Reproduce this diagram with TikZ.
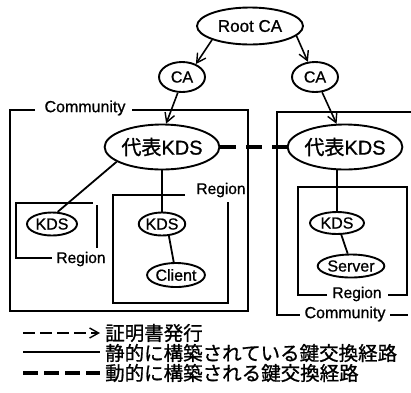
\documentclass[tikz,border=0pt]{standalone}
\usepackage{fontspec}
\setmainfont{Liberation Sans}[FakeBold=0.8]
\newfontfamily\jp{Noto Sans CJK JP}[FakeBold=1]
\usetikzlibrary{shapes.geometric,arrows.meta}
\begin{document}
\begin{tikzpicture}[x=1pt,y=-1pt,
  ell/.style={ellipse,draw,line width=1.9pt,inner sep=0pt,font=\fontsize{16}{16}\selectfont},
  conn/.style={line width=1.8pt},
  cert/.style={line width=1.6pt,-{Straight Barb[length=9pt,width=10pt,line width=1.4pt]}},
  dyn/.style={line width=3.2pt,dash pattern=on 16pt off 10pt},
  boxline/.style={line width=2.8pt},
  lbl/.style={inner sep=2pt,font=\fontsize{16}{16}\selectfont},
  leg/.style={anchor=west,inner sep=0pt,font=\jp\fontsize{19.5}{19.5}\selectfont}]
\useasboundingbox (0,0) rectangle (411,392);

% nodes
\node[ell,minimum width=106pt,minimum height=37pt,font=\fontsize{17}{17}\selectfont] (root) at (250,26) {Root CA};
\node[ell,minimum width=46pt,minimum height=30pt] (caL) at (182,77) {CA};
\node[ell,minimum width=46pt,minimum height=30pt] (caR) at (315,77) {CA};
\node[ell,minimum width=106pt,minimum height=45pt,font=\fontsize{20}{20}\selectfont] (repL) at (162,147) {{\jp 代表}KDS};
\node[ell,minimum width=106pt,minimum height=45pt,font=\fontsize{20}{20}\selectfont] (repR) at (345,147) {{\jp 代表}KDS};
\node[ell,minimum width=50pt,minimum height=23pt] (kdsA) at (52,224) {KDS};
\node[ell,minimum width=46pt,minimum height=23pt] (kdsB) at (162,224) {KDS};
\node[ell,minimum width=53pt,minimum height=24pt] (client) at (176,275) {Client};
\node[ell,minimum width=54pt,minimum height=22pt] (kdsC) at (337,223) {KDS};
\node[ell,minimum width=53pt,minimum height=23pt] (server) at (351,266) {Server};

% certificate arrows
\draw[cert] (root.200) -- (caL.43);
\draw[cert] (root.348) -- (caR.115);
\draw[cert] (caL.255) -- (repL.80);
\draw[cert] (caR.295) -- (repR.110);

% static links
\draw[conn] (repL.198) -- (kdsA.65);
\draw[conn] (repL.south) -- (kdsB.north);
\draw[conn] (kdsB.300) -- (client.100);
\draw[conn] (kdsC.north |- repR.south) -- (kdsC.north);
\draw[conn] (kdsC.290) -- (server.105);

% dynamic link
\draw[dyn] (repL.east) -- (repR.west);

% left community
\node[lbl] (commL) at (85,108) {Community};
\draw[boxline] (35,110) -- (10,110) -- (10,311) -- (248,311) -- (248,110) -- (132,110);
% right community
\node[lbl] (commR) at (345,314) {Community};
\draw[boxline] (411,112) -- (277,112) -- (277,315) -- (300,315);
\draw[boxline] (390,315) -- (408,315);
% left small region
\node[lbl,font=\fontsize{15.5}{15.5}\selectfont] (regA) at (81,259) {Region};
\draw[boxline] (93,203) -- (16,203) -- (16,258) -- (52,258);
\draw[boxline] (97,205) -- (97,248);
% middle region
\node[lbl,font=\fontsize{15.5}{15.5}\selectfont] (regB) at (221,190) {Region};
\draw[boxline] (185,195) -- (113,195) -- (113,303) -- (228,303) -- (228,202);
% right region
\node[lbl,font=\fontsize{15.5}{15.5}\selectfont] (regC) at (357,294) {Region};
\draw[boxline] (327,295) -- (298,295) -- (298,187) -- (407,187) -- (407,295) -- (388,295);

% legend
\coordinate (l1a) at (23,333); \coordinate (l1b) at (100,333);
\coordinate (l2a) at (23,352); \coordinate (l2b) at (100,352);
\coordinate (l3a) at (23,373); \coordinate (l3b) at (100,373);
\draw[cert,dash pattern=on 12pt off 5pt] (l1a) -- (l1b);
\draw[conn] (l2a) -- (l2b);
\draw[line width=3.4pt,dash pattern=on 15pt off 6pt] (l3a) -- (l3b);
\node[leg] (t1) at (105,333) {証明書発行};
\node[leg] (t2) at (105,353) {静的に構築されている鍵交換経路};
\node[leg] (t3) at (105,373) {動的に構築される鍵交換経路};
\end{tikzpicture}
\end{document}
